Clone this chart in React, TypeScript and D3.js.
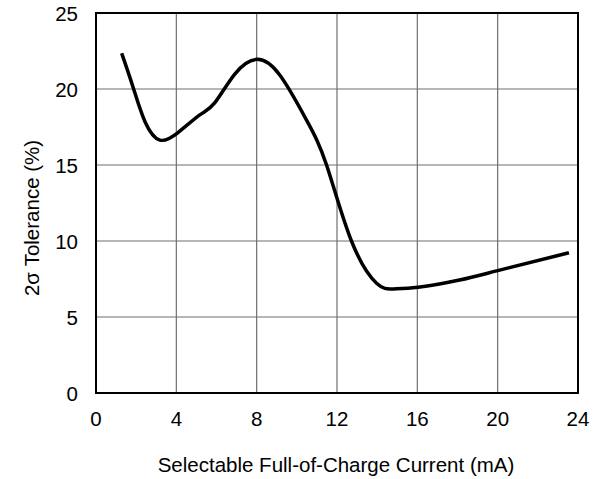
import React from "react";
import * as d3 from "d3";

const currentMA = [1.28, 1.85, 2.44, 3.18, 4.1, 5.17, 5.92, 6.92, 8.0, 9.15, 10.48, 11.48, 12.72, 13.97, 14.8, 16.04, 18.1, 20.0, 23.55];
const tolerance = [22.35, 20.1, 17.85, 16.64, 17.15, 18.3, 19.1, 21.0, 21.95, 20.92, 17.96, 15.0, 10.0, 7.22, 6.85, 6.95, 7.43, 8.05, 9.23];
const xTicks = [0, 4, 8, 12, 16, 20, 24];
const yTicks = [0, 5, 10, 15, 20, 25];

export default function App() {
  const W = 598, H = 479;
  const left = 96, right = 578, top = 13, bottom = 393;
  const x = d3.scaleLinear().domain([0, 24]).range([left, right]);
  const y = d3.scaleLinear().domain([0, 25]).range([bottom, top]);
  const pts: [number, number][] = currentMA.map((c, i) => [c, tolerance[i]]);
  const line = d3.line<[number, number]>().x(d => x(d[0])).y(d => y(d[1])).curve(d3.curveNatural);
  const font = "Arial, 'Liberation Sans', sans-serif";
  const fs = 20.5;
  return (
    <svg width={W} height={H} style={{ position: "absolute", left: 0, top: 0 }} fontFamily={font}>
      <rect x={0} y={0} width={W} height={H} fill="#fff" />
      {xTicks.slice(1, -1).map(t => (
        <line key={"gx" + t} x1={x(t)} x2={x(t)} y1={top} y2={bottom} stroke="#6e6e6e" strokeWidth={1.2} />
      ))}
      {yTicks.slice(1, -1).map(t => (
        <line key={"gy" + t} x1={left} x2={right} y1={y(t)} y2={y(t)} stroke="#6e6e6e" strokeWidth={1.2} />
      ))}
      <rect x={left} y={top} width={right - left} height={bottom - top} fill="none" stroke="#000" strokeWidth={2} />
      <path d={line(pts) || ""} fill="none" stroke="#000" strokeWidth={3.5} strokeLinecap="butt" strokeLinejoin="round" />
      {xTicks.map(t => (
        <text key={"tx" + t} x={x(t)} y={426} textAnchor="middle" fontSize={fs} fill="#000">{t}</text>
      ))}
      {yTicks.map(t => (
        <text key={"ty" + t} x={78} y={y(t) + 7.5} textAnchor="end" fontSize={fs} fill="#000">{t}</text>
      ))}
      <text x={336} y={472} textAnchor="middle" fontSize={fs} fill="#000">Selectable Full-of-Charge Current (mA)</text>
      <text transform={`translate(39, ${(top + bottom) / 2 + 15}) rotate(-90)`} textAnchor="middle" fontSize={fs} fill="#000">2σ Tolerance (%)</text>
    </svg>
  );
}
